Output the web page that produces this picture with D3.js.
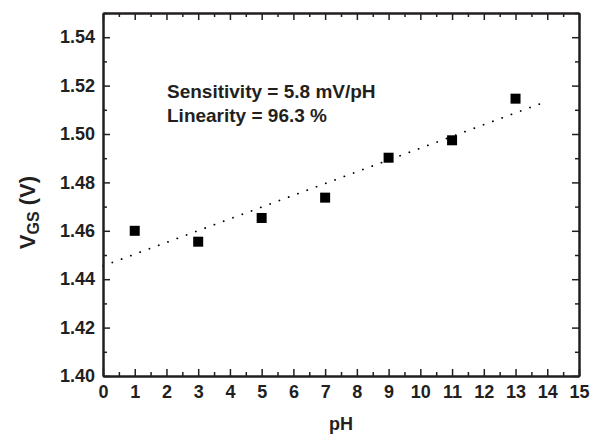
<!DOCTYPE html>
<html>
<head>
<meta charset="utf-8">
<script src="https://cdn.jsdelivr.net/npm/d3@7"></script>
<style>
  body { margin: 0; background: #fff; }
  text { font-family: "Liberation Sans", Arial, sans-serif; font-weight: bold; fill: #231f20; }
</style>
</head>
<body>
<script>
// data
var phValues  = [1, 3, 5, 7, 9, 11, 13];
var vgsValues = [1.460, 1.4555, 1.4653, 1.4737, 1.4902, 1.4974, 1.5146];
var xTicks = d3.range(0, 16, 1);
var yTicks = [1.40, 1.42, 1.44, 1.46, 1.48, 1.50, 1.52, 1.54];
var notes = ["Sensitivity = 5.8 mV/pH", "Linearity = 96.3 %"];

var W = 590, H = 436;
var margin = {left: 103, right: 11, top: 13, bottom: 60};
var width = W - margin.left - margin.right;
var height = H - margin.top - margin.bottom;
var ink = "#231f20";

var svg = d3.select("body").append("svg")
    .attr("width", W)
    .attr("height", H);

var g = svg.append("g")
    .attr("transform", "translate(" + margin.left + "," + margin.top + ")");

var x = d3.scaleLinear().domain([0, 15]).range([0, width]);
var y = d3.scaleLinear().domain([1.40, 1.55]).range([height, 0]);

// linear fit through the points
var mx = d3.mean(phValues), my = d3.mean(vgsValues);
var sxy = d3.sum(phValues, function(d, i) { return (d - mx) * (vgsValues[i] - my); });
var sxx = d3.sum(phValues, function(d) { return (d - mx) * (d - mx); });
var slope = sxy / sxx, icpt = my - slope * mx;
var fitX = [0, 14];

g.append("line")
    .attr("x1", x(fitX[0])).attr("y1", y(icpt + slope * fitX[0]))
    .attr("x2", x(fitX[1])).attr("y2", y(icpt + slope * fitX[1]))
    .attr("stroke", "#000")
    .attr("stroke-width", 1.8)
    .attr("stroke-linecap", "round")
    .attr("stroke-dasharray", "0.1,9.8");

// squares
var sz = 10;
g.selectAll(".pt")
    .data(phValues)
    .enter().append("rect")
    .attr("class", "pt")
    .attr("x", function(d) { return x(d) - sz / 2; })
    .attr("y", function(d, i) { return y(vgsValues[i]) - sz / 2; })
    .attr("width", sz)
    .attr("height", sz)
    .attr("fill", "#000");

// axes: major ticks 7px inward, minor 4px
var xMinor = d3.range(0.5, 15, 1);
var yMinor = d3.range(1.41, 1.55, 0.02);

function addAxis(axis, tr) {
    var a = g.append("g").attr("transform", tr).call(axis);
    a.select(".domain").attr("stroke", ink).attr("stroke-width", 2);
    a.selectAll(".tick line").attr("stroke", ink).attr("stroke-width", 1.5);
    return a;
}

var bottom = addAxis(d3.axisBottom(x).tickValues(xTicks).tickSize(-7).tickSizeOuter(0).tickPadding(9),
    "translate(0," + height + ")");
addAxis(d3.axisBottom(x).tickValues(xMinor).tickSize(-4).tickSizeOuter(0).tickFormat(""),
    "translate(0," + height + ")");
var left = addAxis(d3.axisLeft(y).tickValues(yTicks).tickSize(-7).tickSizeOuter(0).tickPadding(8)
    .tickFormat(d3.format(".2f")), "translate(0,0)");
addAxis(d3.axisLeft(y).tickValues(yMinor).tickSize(-4).tickSizeOuter(0).tickFormat(""), "translate(0,0)");

addAxis(d3.axisTop(x).tickValues(xTicks).tickSize(-7).tickSizeOuter(0).tickFormat(""), "translate(0,0)");
addAxis(d3.axisTop(x).tickValues(xMinor).tickSize(-4).tickSizeOuter(0).tickFormat(""), "translate(0,0)");
addAxis(d3.axisRight(y).tickValues(yTicks).tickSize(-7).tickSizeOuter(0).tickFormat(""),
    "translate(" + width + ",0)");
addAxis(d3.axisRight(y).tickValues(yMinor).tickSize(-4).tickSizeOuter(0).tickFormat(""),
    "translate(" + width + ",0)");

bottom.selectAll("text").attr("font-size", "18px").attr("fill", ink)
    .style("font-family", "Liberation Sans, Arial, sans-serif").style("font-weight", "bold");
left.selectAll("text").attr("font-size", "18px").attr("fill", ink)
    .style("font-family", "Liberation Sans, Arial, sans-serif").style("font-weight", "bold");

// axis titles
g.append("text")
    .attr("x", width / 2)
    .attr("y", height + 54)
    .attr("text-anchor", "middle")
    .attr("font-size", "18px")
    .text("pH");

var yl = g.append("text")
    .attr("transform", "translate(-68," + (height / 2 + 18) + ") rotate(-90)")
    .attr("text-anchor", "middle")
    .attr("font-size", "22px");
yl.append("tspan").text("V");
yl.append("tspan").attr("dy", 4).attr("font-size", "16px").text("GS");
yl.append("tspan").attr("dy", -4).text(" (V)");

// annotation
g.selectAll(".note")
    .data(notes)
    .enter().append("text")
    .attr("class", "note")
    .attr("x", 64)
    .attr("y", function(d, i) { return 85 + i * 24; })
    .attr("font-size", "19px")
    .text(function(d) { return d; });
</script>
</body>
</html>
